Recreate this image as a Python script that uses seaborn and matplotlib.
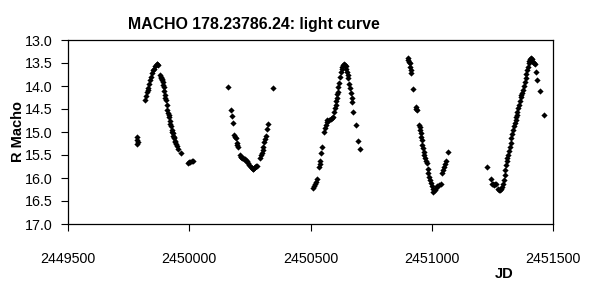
import matplotlib
matplotlib.use("Agg")
import matplotlib.pyplot as plt
import seaborn as sns
import pandas as pd

# ---- data ----
jd = [
    # season 1
    2449785, 2449786, 2449787, 2449786,
    2449817, 2449820, 2449824, 2449828, 2449831, 2449836, 2449840, 2449844, 2449848, 2449852,
    2449855, 2449860, 2449865, 2449868, 2449872,
    2449880, 2449882, 2449884, 2449886, 2449888, 2449890, 2449893, 2449895, 2449897, 2449899,
    2449902, 2449904, 2449907, 2449910, 2449913, 2449915, 2449917, 2449920, 2449922, 2449924,
    2449927, 2449929, 2449931, 2449934, 2449936, 2449938, 2449941, 2449943, 2449945, 2449950,
    2449955, 2449968, 2449996, 2450001, 2450005, 2450011, 2450017,
    # season 2
    2450158, 2450171, 2450175, 2450179, 2450186, 2450188, 2450191, 2450196, 2450198, 2450202,
    2450210, 2450212, 2450215, 2450218, 2450220, 2450225, 2450230, 2450234, 2450237, 2450242,
    2450248, 2450253, 2450258, 2450261, 2450264, 2450268, 2450271, 2450275, 2450278,
    2450292, 2450296, 2450299, 2450303, 2450306, 2450310, 2450313, 2450316, 2450320, 2450324,
    2450344,
    # season 3
    2450510, 2450514, 2450518, 2450523, 2450528, 2450537, 2450539, 2450541, 2450545, 2450548,
    2450555, 2450558, 2450562, 2450566, 2450569, 2450576, 2450583, 2450588, 2450593, 2450597,
    2450600, 2450604, 2450606, 2450608, 2450611, 2450613, 2450615, 2450617, 2450620, 2450624,
    2450628, 2450631, 2450635, 2450638, 2450641, 2450645, 2450648, 2450652, 2450654, 2450656,
    2450660, 2450663, 2450666, 2450670, 2450673, 2450677, 2450687, 2450696, 2450705,
    # season 4
    2450903, 2450904, 2450907, 2450909, 2450911, 2450913, 2450916, 2450924, 2450934, 2450936,
    2450938, 2450948, 2450950, 2450952, 2450955, 2450957, 2450959, 2450961, 2450963, 2450966,
    2450969, 2450972, 2450976, 2450979, 2450983, 2450986, 2450990, 2450993, 2450997, 2451000,
    2451004, 2451007, 2451012, 2451017, 2451022, 2451028, 2451037, 2451044, 2451047, 2451051,
    2451054, 2451057, 2451067,
    # season 5
    2451228, 2451244, 2451247, 2451252, 2451255, 2451260, 2451265, 2451275, 2451278, 2451282,
    2451286, 2451290, 2451294, 2451297, 2451300, 2451304, 2451307, 2451310, 2451312, 2451314,
    2451318, 2451321, 2451325, 2451328, 2451331, 2451335, 2451338, 2451342, 2451346, 2451349,
    2451351, 2451353, 2451357, 2451360, 2451364, 2451367, 2451370, 2451373, 2451377, 2451380,
    2451384, 2451387, 2451390, 2451393, 2451397, 2451400, 2451403, 2451407, 2451410, 2451414,
    2451418, 2451421, 2451427, 2451431, 2451434, 2451445, 2451462,
]
mag = [
    # season 1
    15.10, 15.17, 15.22, 15.25,
    14.30, 14.22, 14.12, 14.08, 14.05, 13.95, 13.87, 13.80, 13.72, 13.66,
    13.62, 13.57, 13.53, 13.52, 13.54,
    13.75, 13.80, 13.82, 13.85, 13.88, 13.92, 13.97, 14.02, 14.10, 14.20,
    14.26, 14.30, 14.42, 14.52, 14.58, 14.62, 14.67, 14.75, 14.82, 14.88,
    14.95, 14.99, 15.03, 15.08, 15.11, 15.14, 15.19, 15.22, 15.25, 15.30,
    15.36, 15.46, 15.68, 15.66, 15.65, 15.63, 15.62,
    # season 2
    14.03, 14.52, 14.65, 14.81, 15.07, 15.10, 15.14, 15.24, 15.28, 15.33,
    15.50, 15.54, 15.55, 15.57, 15.57, 15.58, 15.59, 15.62, 15.64, 15.68,
    15.72, 15.76, 15.79, 15.80, 15.81, 15.78, 15.75, 15.74, 15.74,
    15.57, 15.51, 15.46, 15.39, 15.32, 15.21, 15.15, 15.09, 14.94, 14.83,
    14.05,
    # season 3
    16.22, 16.18, 16.13, 16.08, 16.03, 15.75, 15.70, 15.64, 15.45, 15.33,
    14.99, 14.92, 14.85, 14.78, 14.74, 14.73, 14.72, 14.70, 14.68, 14.56,
    14.48, 14.41, 14.33, 14.27, 14.18, 14.12, 14.03, 13.94, 13.80, 13.69,
    13.62, 13.58, 13.55, 13.53, 13.55, 13.57, 13.62, 13.69, 13.76, 13.83,
    13.95, 14.05, 14.16, 14.26, 14.34, 14.56, 14.85, 15.20, 15.36,
    # season 4
    13.40, 13.44, 13.48, 13.51, 13.58, 13.65, 13.72, 14.07, 14.45, 14.49,
    14.52, 14.85, 14.90, 14.96, 15.03, 15.10, 15.18, 15.28, 15.35, 15.43,
    15.50, 15.57, 15.62, 15.68, 15.80, 15.90, 15.97, 16.04, 16.10, 16.17,
    16.24, 16.30, 16.27, 16.22, 16.18, 16.15, 16.13, 15.90, 15.82, 15.75,
    15.70, 15.64, 15.44,
    # season 5
    15.77, 16.03, 16.12, 16.14, 16.15, 16.14, 16.13, 16.24, 16.25, 16.26,
    16.23, 16.19, 16.12, 16.04, 15.94, 15.83, 15.72, 15.64, 15.57, 15.50,
    15.41, 15.32, 15.23, 15.14, 15.05, 14.96, 14.88, 14.81, 14.74, 14.68,
    14.62, 14.56, 14.48, 14.41, 14.32, 14.23, 14.20, 14.16, 14.08, 14.01,
    13.92, 13.83, 13.74, 13.65, 13.58, 13.51, 13.46, 13.41, 13.40, 13.42,
    13.47, 13.51, 13.53, 13.69, 13.87, 14.10, 14.62,
]
x_ticks = [2449500, 2450000, 2450500, 2451000, 2451500]
x_tick_labels = ["2449500", "2450000", "2450500", "2451000", "2451500"]
y_ticks = [13.0, 13.5, 14.0, 14.5, 15.0, 15.5, 16.0, 16.5, 17.0]
y_tick_labels = ["13.0", "13.5", "14.0", "14.5", "15.0", "15.5", "16.0", "16.5", "17.0"]

df = pd.DataFrame({"JD": jd, "R Macho": mag})

sns.set_style("ticks")
plt.rcParams['font.family'] = ['Liberation Sans', 'DejaVu Sans']
plt.rcParams['text.color'] = 'black'

W, H = 593, 297
fig = plt.figure(figsize=(W / 100, H / 100), dpi=100)
ax = fig.add_axes([68 / W, 1 - 224 / H, (553 - 68) / W, (224 - 40) / H])

sns.scatterplot(data=df, x="JD", y="R Macho", marker="D", s=10, color="black",
                linewidth=0, ax=ax, legend=False)

ax.set_xlim(2449500, 2451500)
ax.set_ylim(17.0, 13.0)
ax.set_xticks(x_ticks)
ax.set_xticklabels(x_tick_labels, fontsize=10.3)
ax.set_yticks(y_ticks)
ax.set_yticklabels(y_tick_labels, fontsize=10.3)
ax.tick_params(axis="x", direction="out", length=5, width=0.8, pad=15, colors="black")
ax.tick_params(axis="y", direction="out", length=5, width=0.8, pad=6, colors="black")
for side in ["top", "right", "left", "bottom"]:
    ax.spines[side].set_visible(True)
    ax.spines[side].set_color("black")
    ax.spines[side].set_linewidth(0.9)
ax.set_xlabel("")
ax.set_ylabel("")

fig.text(254 / W, 1 - 25 / H, "MACHO 178.23786.24: light curve", ha="center", va="center",
         fontsize=11.4, fontweight="bold", color="black")
fig.text(18 / W, 1 - 132 / H, "R Macho", ha="center", va="center", rotation=90,
         fontsize=10.5, fontweight="bold", color="black")
fig.text(504 / W, 1 - 274 / H, "JD", ha="center", va="center",
         fontsize=10.5, fontweight="bold", color="black")

fig.savefig("out.png", dpi=100, facecolor="white")
